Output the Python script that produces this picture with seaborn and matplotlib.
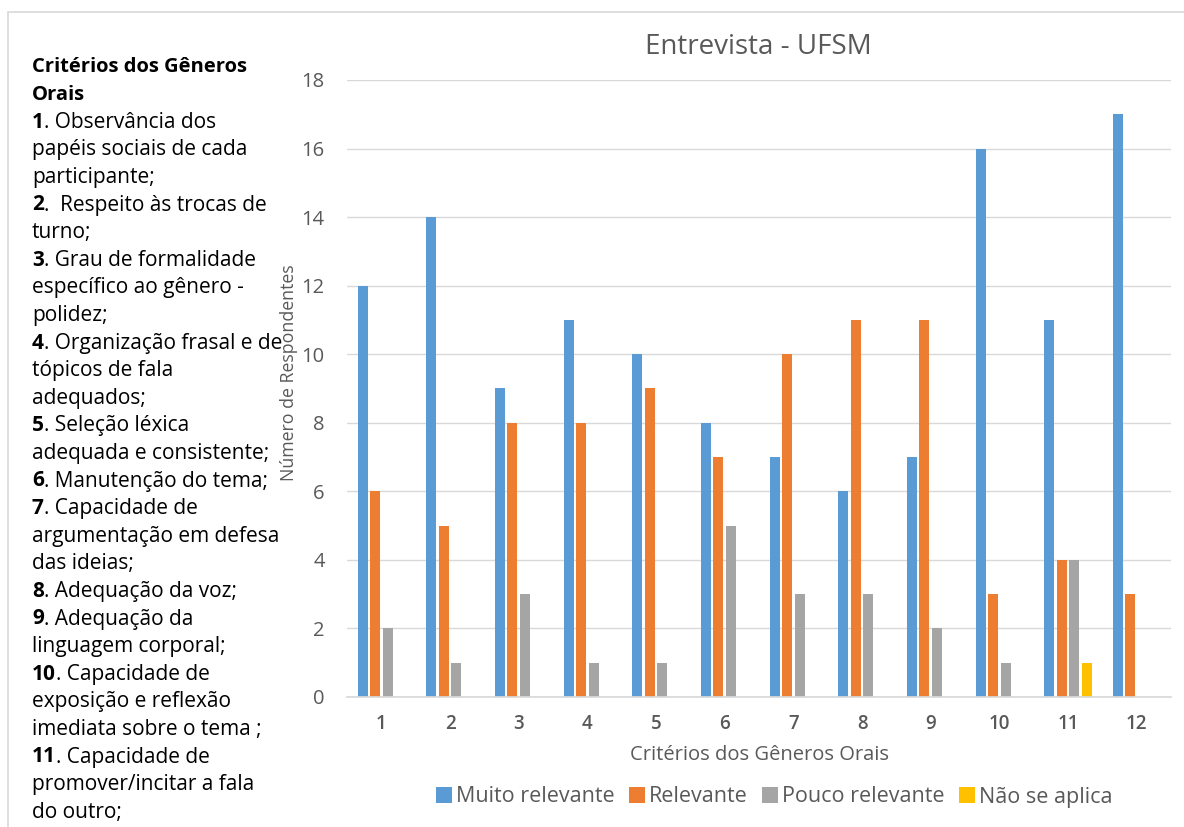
import matplotlib
matplotlib.use("Agg")
import matplotlib.pyplot as plt
import seaborn as sns
import pandas as pd
from matplotlib.patches import Rectangle
from matplotlib.lines import Line2D

# ---- data ----
categories = ["1", "2", "3", "4", "5", "6", "7", "8", "9", "10", "11", "12"]
series_names = ["Muito relevante", "Relevante", "Pouco relevante", "Não se aplica"]
muito_relevante = [12, 14, 9, 11, 10, 8, 7, 6, 7, 16, 11, 17]
relevante = [6, 5, 8, 8, 9, 7, 10, 11, 11, 3, 4, 3]
pouco_relevante = [2, 1, 3, 1, 1, 5, 3, 3, 2, 1, 4, 0]
nao_se_aplica = [0, 0, 0, 0, 0, 0, 0, 0, 0, 0, 1, 0]
colors = ["#5B9BD5", "#ED7D31", "#A5A5A5", "#FFC000"]

title = "Entrevista - UFSM"
xlabel = "Critérios dos Gêneros Orais"
ylabel = "Número de Respondentes"
yticks = [0, 2, 4, 6, 8, 10, 12, 14, 16, 18]

side_lines = [
    ("Critérios dos Gêneros", ""),
    ("Orais", ""),
    ("1", ". Observância dos"),
    ("", "papéis sociais de cada"),
    ("", "participante;"),
    ("2", ".  Respeito às trocas de"),
    ("", "turno;"),
    ("3", ". Grau de formalidade"),
    ("", "específico ao gênero -"),
    ("", "polidez;"),
    ("4", ". Organização frasal e de"),
    ("", "tópicos de fala"),
    ("", "adequados;"),
    ("5", ". Seleção léxica"),
    ("", "adequada e consistente;"),
    ("6", ". Manutenção do tema;"),
    ("7", ". Capacidade de"),
    ("", "argumentação em defesa"),
    ("", "das ideias;"),
    ("8", ". Adequação da voz;"),
    ("9", ". Adequação da"),
    ("", "linguagem corporal;"),
    ("10", ". Capacidade de"),
    ("", "exposição e reflexão"),
    ("", "imediata sobre o tema ;"),
    ("11", ". Capacidade de"),
    ("", "promover/incitar a fala"),
    ("", "do outro;"),
]

rows = []
for name, vals in zip(series_names, [muito_relevante, relevante, pouco_relevante, nao_se_aplica]):
    for c, v in zip(categories, vals):
        rows.append({"cat": c, "serie": name, "val": v})
df = pd.DataFrame(rows)

sns.set_theme(style="white")
FONT = "Open Sans"
plt.rcParams["font.family"] = [FONT, "DejaVu Sans"]
TXT = "#595959"

W, H = 1184, 827
fig = plt.figure(figsize=(W / 100, H / 100), dpi=100)

# outer frame
fig.patches.append(Rectangle((8 / W, -0.01), 1.0, 1 - 12 / H + 0.01, transform=fig.transFigure,
                             fill=False, edgecolor="#D9D9D9", linewidth=1.2))

ax = fig.add_axes([347 / W, 1 - 697 / H, (1171 - 347) / W, (697 - 80) / H])
sns.barplot(data=df, x="cat", y="val", hue="serie", order=categories, hue_order=series_names,
            palette=colors, width=0.73, gap=0.2, ax=ax, legend=False, linewidth=0,
            saturation=1)
ax.set_ylim(0, 18)
ax.set_xlim(-0.5, len(categories) - 0.5)
ax.set_yticks(yticks)
ax.set_yticklabels([str(t) for t in yticks], fontsize=14.5, color=TXT)
ax.set_xticks(range(len(categories)))
ax.set_xticklabels(categories, fontsize=13.5, color=TXT, fontweight="semibold")
ax.tick_params(axis="y", length=0, pad=16)
ax.tick_params(axis="x", length=0, pad=12)
ax.yaxis.grid(True, color="#D9D9D9", linewidth=1)
ax.set_axisbelow(True)
for s in ["top", "right", "left"]:
    ax.spines[s].set_visible(False)
ax.spines["bottom"].set_color("#D9D9D9")
ax.set_xlabel(xlabel, fontsize=14.5, color=TXT, labelpad=8)
ax.set_ylabel("")
fig.text(289 / W, 1 - 373 / H, ylabel, rotation=90, ha="center", va="center",
         fontsize=12.8, color=TXT)
fig.text(758 / W, 1 - 47 / H, title, ha="center", va="center", fontsize=20, color=TXT)

handles = [Line2D([0], [0], marker="s", linestyle="", markersize=11, markerfacecolor=c,
                  markeredgewidth=0) for c in colors]
fig.legend(handles, series_names, loc="center", bbox_to_anchor=(773 / W, 1 - 797 / H),
           ncol=4, frameon=False, fontsize=15.5, handletextpad=0.05, columnspacing=0.55,
           labelcolor=TXT, handlelength=1.0)

# side text
fig.canvas.draw()
renderer = fig.canvas.get_renderer()
x0 = 32
y0 = 67
dy = 27.6
fs_head = 14.5
fs = 15
for i, (bold, rest) in enumerate(side_lines):
    y = 1 - (y0 + i * dy) / H
    if i < 2:
        fig.text(x0 / W, y, bold, fontsize=fs_head, fontweight="bold", color="black", va="center")
        continue
    x = x0
    if bold:
        t = fig.text(x / W, y, bold, fontsize=fs, fontweight="bold", color="black", va="center")
        bb = t.get_window_extent(renderer)
        x = x + bb.width
    fig.text(x / W, y, rest, fontsize=fs, color="black", va="center")

fig.savefig("out.png", dpi=100, facecolor="white")
